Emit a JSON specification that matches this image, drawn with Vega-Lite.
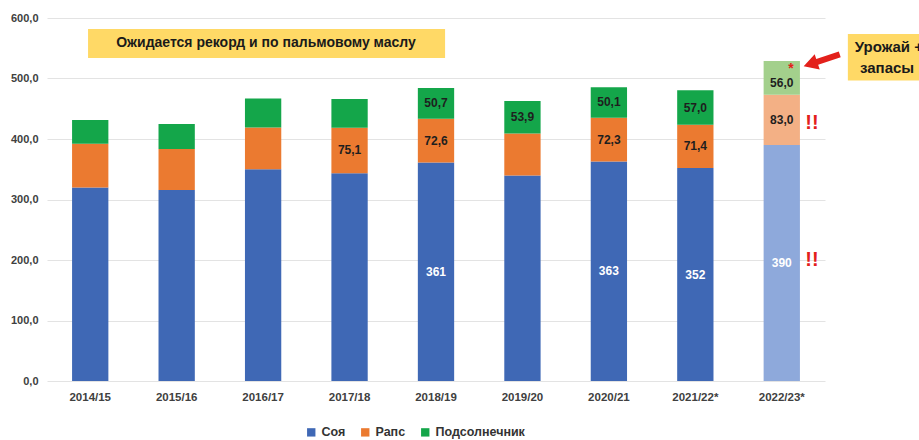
{
  "$schema": "https://vega.github.io/schema/vega-lite/v6.json",
  "width": 778,
  "height": 363,
  "autosize": "none",
  "padding": {"left": 47, "top": 18, "right": 94, "bottom": 59},
  "background": "white",
  "config": {"view": {"stroke": null}, "font": "Liberation Sans"},
  "data": {
    "values": [
      {"year": "2014/15", "crop": "Соя", "series": "Соя", "k": 1, "value": 320, "label": ""},
      {"year": "2014/15", "crop": "Рапс", "series": "Рапс", "k": 2, "value": 72, "label": ""},
      {"year": "2014/15", "crop": "Подсолнечник", "series": "Подсолнечник", "k": 3, "value": 39.5, "label": ""},
      {"year": "2015/16", "crop": "Соя", "series": "Соя", "k": 1, "value": 315.5, "label": ""},
      {"year": "2015/16", "crop": "Рапс", "series": "Рапс", "k": 2, "value": 68, "label": ""},
      {"year": "2015/16", "crop": "Подсолнечник", "series": "Подсолнечник", "k": 3, "value": 41.5, "label": ""},
      {"year": "2016/17", "crop": "Соя", "series": "Соя", "k": 1, "value": 350, "label": ""},
      {"year": "2016/17", "crop": "Рапс", "series": "Рапс", "k": 2, "value": 69, "label": ""},
      {"year": "2016/17", "crop": "Подсолнечник", "series": "Подсолнечник", "k": 3, "value": 48, "label": ""},
      {"year": "2017/18", "crop": "Соя", "series": "Соя", "k": 1, "value": 343.5, "label": ""},
      {"year": "2017/18", "crop": "Рапс", "series": "Рапс", "k": 2, "value": 75.1, "label": "75,1"},
      {"year": "2017/18", "crop": "Подсолнечник", "series": "Подсолнечник", "k": 3, "value": 47.5, "label": ""},
      {"year": "2018/19", "crop": "Соя", "series": "Соя", "k": 1, "value": 361, "label": "361"},
      {"year": "2018/19", "crop": "Рапс", "series": "Рапс", "k": 2, "value": 72.6, "label": "72,6"},
      {"year": "2018/19", "crop": "Подсолнечник", "series": "Подсолнечник", "k": 3, "value": 50.7, "label": "50,7"},
      {"year": "2019/20", "crop": "Соя", "series": "Соя", "k": 1, "value": 339.5, "label": ""},
      {"year": "2019/20", "crop": "Рапс", "series": "Рапс", "k": 2, "value": 69.5, "label": ""},
      {"year": "2019/20", "crop": "Подсолнечник", "series": "Подсолнечник", "k": 3, "value": 53.9, "label": "53,9"},
      {"year": "2020/21", "crop": "Соя", "series": "Соя", "k": 1, "value": 363, "label": "363"},
      {"year": "2020/21", "crop": "Рапс", "series": "Рапс", "k": 2, "value": 72.3, "label": "72,3"},
      {"year": "2020/21", "crop": "Подсолнечник", "series": "Подсолнечник", "k": 3, "value": 50.1, "label": "50,1"},
      {"year": "2021/22*", "crop": "Соя", "series": "Соя", "k": 1, "value": 352, "label": "352"},
      {"year": "2021/22*", "crop": "Рапс", "series": "Рапс", "k": 2, "value": 71.4, "label": "71,4"},
      {"year": "2021/22*", "crop": "Подсолнечник", "series": "Подсолнечник", "k": 3, "value": 57.0, "label": "57,0"},
      {"year": "2022/23*", "crop": "Соя", "series": "Соя (прогноз)", "k": 1, "value": 390, "label": "390"},
      {"year": "2022/23*", "crop": "Рапс", "series": "Рапс (прогноз)", "k": 2, "value": 83.0, "label": "83,0"},
      {"year": "2022/23*", "crop": "Подсолнечник", "series": "Подсолнечник (прогноз)", "k": 3, "value": 56.0, "label": "56,0"}
    ]
  },
  "layer": [
    {
      "mark": {"type": "bar"},
      "encoding": {
        "x": {
          "field": "year", "type": "nominal",
          "scale": {"paddingInner": 0.58, "paddingOuter": 0.29},
          "axis": {"title": null, "labelAngle": 0, "labelFontWeight": "bold", "labelFontSize": 11.5, "labelColor": "#404040", "ticks": false, "domain": false, "labelPadding": 10}
        },
        "y": {
          "field": "value", "type": "quantitative", "stack": "zero",
          "scale": {"domain": [0, 600], "nice": false},
          "axis": {"title": null, "values": [0, 100, 200, 300, 400, 500, 600], "labelExpr": "replace(format(datum.value, '.1f'), '.', ',')", "gridColor": "#e3e3e3", "ticks": false, "domain": false, "labelPadding": 9, "labelFontWeight": "bold", "labelFontSize": 11, "labelColor": "#404040"}
        },
        "color": {
          "field": "series", "type": "nominal",
          "scale": {
            "domain": ["Соя", "Рапс", "Подсолнечник", "Соя (прогноз)", "Рапс (прогноз)", "Подсолнечник (прогноз)"],
            "range": ["#3F68B5", "#EB7A30", "#14A64A", "#8EA9DB", "#F3B085", "#A3D08C"]
          },
          "legend": {"values": ["Соя", "Рапс", "Подсолнечник"], "title": null, "orient": "none", "legendX": 258, "legendY": 408, "direction": "horizontal", "symbolType": "square", "symbolSize": 70, "symbolStrokeWidth": 0, "labelFontSize": 12.5, "labelFontWeight": "bold", "labelColor": "#333333", "columnPadding": 13, "labelOffset": 4}
        },
        "order": {"field": "k"}
      }
    },
    {
      "mark": {"type": "text", "fontWeight": "bold", "fontSize": 12},
      "encoding": {
        "x": {"field": "year", "type": "nominal"},
        "y": {"field": "value", "type": "quantitative", "stack": "zero", "bandPosition": 0.5},
        "detail": {"field": "series"},
        "order": {"field": "k"},
        "text": {"condition": {"test": "datum.year === '2022/23*' && datum.crop === 'Подсолнечник'", "value": ""}, "field": "label"},
        "color": {"condition": {"test": "datum.crop === 'Соя'", "value": "white"}, "value": "#1e1e1e"}
      }
    },
    {
      "mark": {"type": "text", "fontWeight": "bold", "fontSize": 12, "dy": 5, "color": "#1e1e1e"},
      "encoding": {
        "x": {"field": "year", "type": "nominal"},
        "y": {"field": "value", "type": "quantitative", "stack": "zero", "bandPosition": 0.5},
        "detail": {"field": "series"},
        "order": {"field": "k"},
        "text": {"condition": {"test": "datum.year === '2022/23*' && datum.crop === 'Подсолнечник'", "field": "label"}, "value": ""}
      }
    },
    {
      "data": {"values": [{}]},
      "mark": {"type": "rect", "color": "#FFD966"},
      "encoding": {
        "x": {"datum": "2014/15", "type": "nominal", "bandPosition": 0.44},
        "x2": {"datum": "2018/19", "bandPosition": 0.75},
        "y": {"datum": 582, "type": "quantitative"},
        "y2": {"datum": 534}
      }
    },
    {
      "data": {"values": [{}]},
      "mark": {"type": "text", "text": "Ожидается рекорд и по пальмовому маслу", "fontSize": 14, "fontWeight": "bold", "color": "#1a1a1a"},
      "encoding": {
        "x": {"datum": "2016/17", "type": "nominal", "bandPosition": 0.58},
        "y": {"datum": 558.5, "type": "quantitative"}
      }
    },
    {
      "data": {"values": [{}]},
      "mark": {"type": "rect", "color": "#FFD966"},
      "encoding": {
        "x": {"datum": "2022/23*", "type": "nominal", "bandPosition": 2.32},
        "x2": {"datum": "2022/23*", "bandPosition": 4.8},
        "y": {"datum": 573.5, "type": "quantitative"},
        "y2": {"datum": 496.5}
      }
    },
    {
      "data": {"values": [{}]},
      "mark": {"type": "text", "text": "Урожай +", "fontSize": 15, "fontWeight": "bold", "color": "#1a1a1a"},
      "encoding": {
        "x": {"datum": "2022/23*", "type": "nominal", "bandPosition": 3.45},
        "y": {"datum": 552.5, "type": "quantitative"}
      }
    },
    {
      "data": {"values": [{}]},
      "mark": {"type": "text", "text": "запасы", "fontSize": 15, "fontWeight": "bold", "color": "#1a1a1a"},
      "encoding": {
        "x": {"datum": "2022/23*", "type": "nominal", "bandPosition": 3.4},
        "y": {"datum": 518, "type": "quantitative"}
      }
    },
    {
      "data": {"values": [{}]},
      "mark": {"type": "point", "shape": "M-1,-0.16L0.25,-0.16L0.25,-0.42L1,0L0.25,0.42L0.25,0.16L-1,0.16Z", "filled": true, "opacity": 1, "color": "#E3201B", "size": 1444, "angle": 161.6},
      "encoding": {
        "x": {"datum": "2022/23*", "type": "nominal", "bandPosition": 1.6},
        "y": {"datum": 530, "type": "quantitative"}
      }
    },
    {
      "data": {"values": [{}]},
      "mark": {"type": "text", "text": "!!", "fontSize": 20, "fontWeight": "bold", "color": "#E3201B"},
      "encoding": {
        "x": {"datum": "2022/23*", "type": "nominal", "bandPosition": 1.33},
        "y": {"datum": 426, "type": "quantitative"}
      }
    },
    {
      "data": {"values": [{}]},
      "mark": {"type": "text", "text": "!!", "fontSize": 20, "fontWeight": "bold", "color": "#E3201B"},
      "encoding": {
        "x": {"datum": "2022/23*", "type": "nominal", "bandPosition": 1.33},
        "y": {"datum": 200, "type": "quantitative"}
      }
    },
    {
      "data": {"values": [{}]},
      "mark": {"type": "text", "text": "*", "fontSize": 14, "fontWeight": "bold", "color": "#E3201B"},
      "encoding": {
        "x": {"datum": "2022/23*", "type": "nominal", "bandPosition": 0.75},
        "y": {"datum": 516, "type": "quantitative"}
      }
    }
  ]
}
